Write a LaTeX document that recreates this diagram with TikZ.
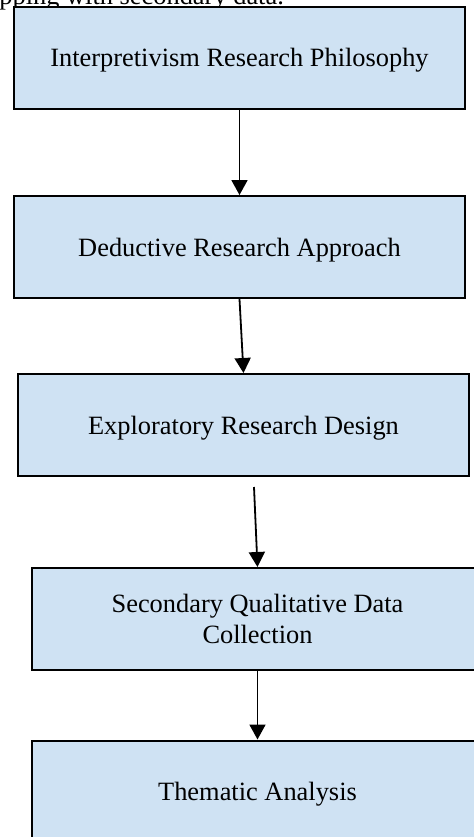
\documentclass[tikz,border=0pt]{standalone}
\usepackage{fontspec}
\setmainfont{Liberation Serif}
\usetikzlibrary{arrows.meta}
\definecolor{boxblue}{RGB}{207,226,243}

\begin{document}
\begin{tikzpicture}[x=0.5pt,y=-0.5pt,
    stagebox/.style={draw=black, line width=1pt, fill=boxblue, minimum width=225.5pt, minimum height=51pt, align=center, inner sep=0pt, text depth=0pt, font=\fontsize{13.2}{15.5}\selectfont},
    flow/.style={-{Triangle[width=8pt,length=7.5pt]}, line width=0.9pt}]
    \useasboundingbox (0,0) rectangle (474,837);
    \node[anchor=base west, inner sep=0pt, font=\fontsize{13.2}{15.5}\selectfont] (lead) at (-1,4) {pping with secondary data.};
    \node[stagebox] (phil) at (239.5,57.5) {Interpretivism Research Philosophy};
    \node[stagebox] (ded) at (239.5,247) {Deductive Research Approach};
    \node[stagebox] (expl) at (243.5,425) {Exploratory Research Design};
    \node[stagebox] (sec) at (257.5,619) {Secondary Qualitative Data\\Collection};
    \node[stagebox] (them) at (257.5,791.5) {Thematic Analysis};
    \coordinate (gap) at (254,487);
    \draw[flow] (phil.south) -- (ded.north);
    \draw[flow] (ded.south) -- (expl.north);
    \draw[flow] (gap) -- (sec.north);
    \draw[flow] (sec.south) -- (them.north);
\end{tikzpicture}
\end{document}
